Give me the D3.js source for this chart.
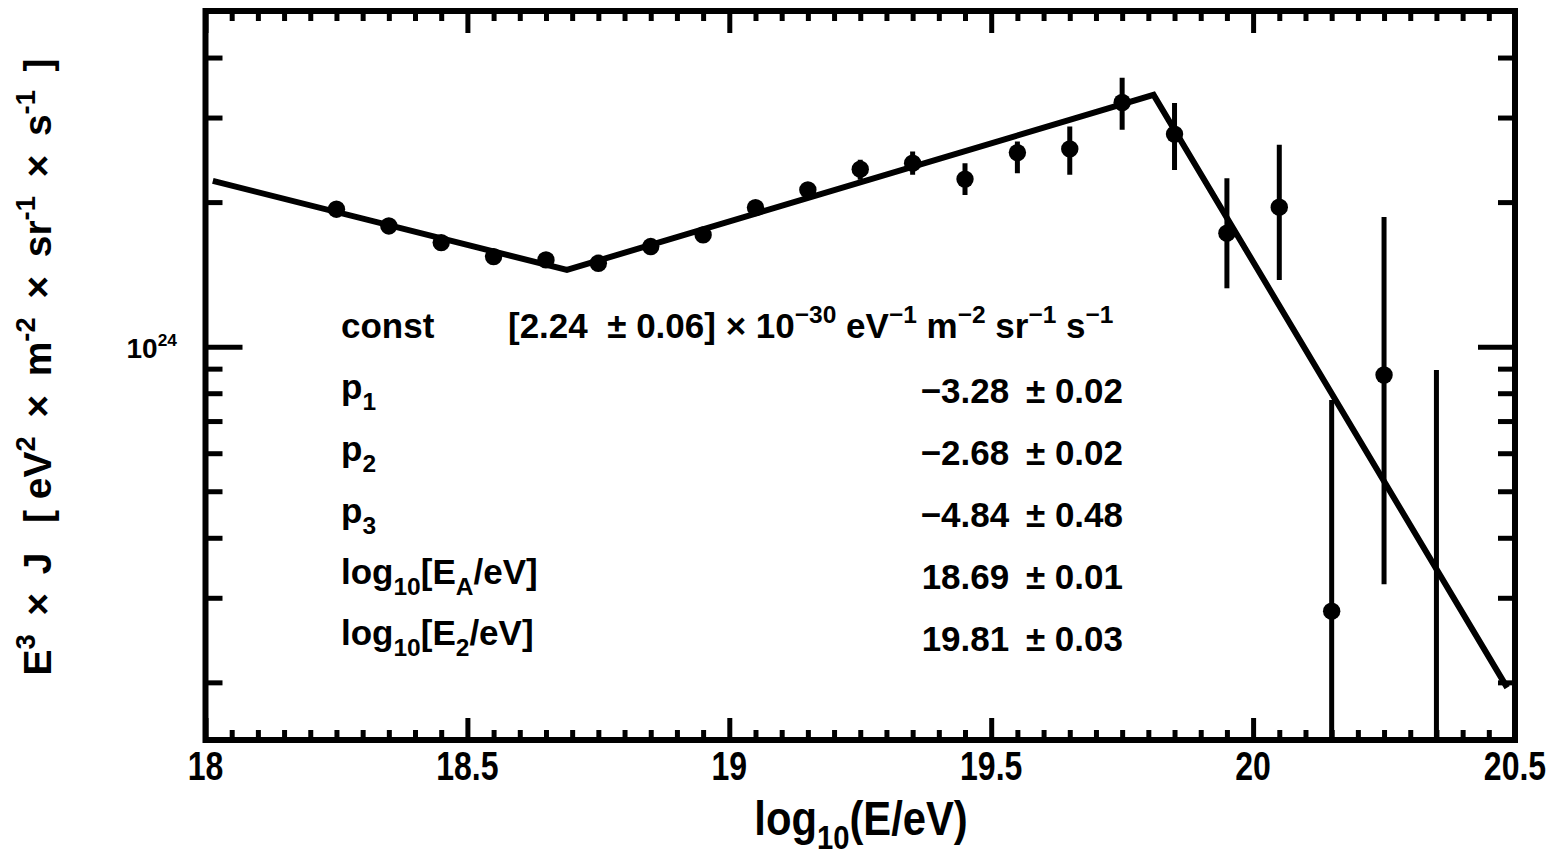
<!DOCTYPE html>
<html>
<head>
<meta charset="utf-8">
<script src="https://cdn.jsdelivr.net/npm/d3@7"></script>
<style>
  html, body { margin: 0; padding: 0; background: #fff; }
  svg { display: block; }
  text { font-family: "Liberation Sans", Arial, Helvetica, sans-serif; font-weight: bold; fill: #000; white-space: pre; }
</style>
</head>
<body>
<svg id="chart" width="1547" height="859"></svg>
<script>
// ---------------- data ----------------
const logE = [18.25, 18.35, 18.45, 18.55, 18.65, 18.75, 18.85, 18.95, 19.05, 19.15,
              19.25, 19.35, 19.45, 19.55, 19.65, 19.75, 19.85, 19.95, 20.05, 20.15, 20.25, 20.35];
const flux = [1.933e24, 1.784e24, 1.647e24, 1.540e24, 1.516e24, 1.492e24, 1.616e24, 1.709e24, 1.948e24, 2.121e24,
              2.342e24, 2.411e24, 2.233e24, 2.536e24, 2.581e24, 3.224e24, 2.771e24, 1.723e24, 1.952e24, 2.814e23, 8.73e23, 1.2e23];
const fluxHi = [1.95e24, 1.80e24, 1.66e24, 1.55e24, 1.53e24, 1.50e24, 1.63e24, 1.73e24, 1.98e24, 2.16e24,
                2.449e24, 2.548e24, 2.411e24, 2.674e24, 2.873e24, 3.629e24, 3.215e24, 2.243e24, 2.632e24, 7.74e23, 1.863e24, 8.94e23];
const fluxLo = [1.92e24, 1.77e24, 1.63e24, 1.53e24, 1.50e24, 1.48e24, 1.60e24, 1.69e24, 1.92e24, 2.09e24,
                2.225e24, 2.280e24, 2.070e24, 2.297e24, 2.280e24, 2.828e24, 2.334e24, 1.323e24, 1.377e24, 1.0e22, 3.203e23, 1.0e22];

const fitLogE = [18.014, 18.69, 19.81, 20.485];
const fitFlux = [2.214e24, 1.445e24, 3.344e24, 1.95e23];

const xMajorTicks = [18, 18.5, 19, 19.5, 20, 20.5];
const xTickLabels = ["18", "18.5", "19", "19.5", "20", "20.5"];
const yMajorTicks = [1e24];
const yMinorTicks = [2e23, 3e23, 4e23, 5e23, 6e23, 7e23, 8e23, 9e23, 2e24, 3e24, 4e24];

const paramNames = [
  [["const", 0]],
  [["p", 0], ["1", -1]],
  [["p", 0], ["2", -1]],
  [["p", 0], ["3", -1]],
  [["log", 0], ["10", -1], ["[E", 0], ["A", -1], ["/eV]", 0]],
  [["log", 0], ["10", -1], ["[E", 0], ["2", -1], ["/eV]", 0]]
];
const paramValues = [
  [["[2.24  ± 0.06] × 10", 0], ["−30", 1], [" eV", 0], ["−1", 1], [" m", 0], ["−2", 1], [" sr", 0], ["−1", 1], [" s", 0], ["−1", 1]],
  [["−3.28 \u2009± 0.02", 0]],
  [["−2.68 \u2009± 0.02", 0]],
  [["−4.84 \u2009± 0.48", 0]],
  [["18.69 \u2009± 0.01", 0]],
  [["19.81 \u2009± 0.03", 0]]
];

// ---------------- layout ----------------
const L = 205.5, R = 1515, T = 11, B = 740;
const svg = d3.select("#chart");

const x = d3.scaleLinear().domain([18, 20.5]).range([L, R]);
const y = d3.scaleLog().domain([1.517e23, 5e24]).range([B, T]);

svg.append("defs").append("clipPath").attr("id", "clip")
  .append("rect").attr("x", L + 3).attr("y", T + 3).attr("width", R - L - 6).attr("height", B - T - 6);

// rich text helper: parts [[str, shift]] shift 0 normal, -1 subscript, 1 superscript
function richText(g, px, py, parts, size, anchor, sx, ratio) {
  ratio = ratio || 0.7;
  const t = g.append("text")
    .attr("transform", `translate(${px},${py}) scale(${sx},1)`)
    .attr("text-anchor", anchor)
    .style("font-size", size + "px");
  let prev = 0;
  parts.forEach(([s, shift]) => {
    const ts = t.append("tspan").text(s);
    const target = shift === -1 ? size * 0.3 : shift === 1 ? -size * 0.42 : 0;
    if (shift !== 0) ts.style("font-size", (size * ratio) + "px");
    ts.attr("dy", target - prev);
    prev = target;
  });
  return t;
}

// ---------------- axes (ticks on all 4 sides) ----------------
const axesG = svg.append("g");
const xMinor = d3.range(0, 51).map(i => 18 + i * 0.05).filter(v => !xMajorTicks.some(m => Math.abs(m - v) < 1e-6));

const bottomAxis = d3.axisBottom(x).tickValues(xMajorTicks).tickSize(-22).tickFormat("");
const bottomMinor = d3.axisBottom(x).tickValues(xMinor).tickSize(-10).tickFormat("");
const topAxis = d3.axisTop(x).tickValues(xMajorTicks).tickSize(-22).tickFormat("");
const topMinor = d3.axisTop(x).tickValues(xMinor).tickSize(-10).tickFormat("");
const leftAxis = d3.axisLeft(y).tickValues(yMajorTicks).tickSize(-37).tickFormat("");
const leftMinor = d3.axisLeft(y).tickValues(yMinorTicks).tickSize(-17).tickFormat("");
const rightAxis = d3.axisRight(y).tickValues(yMajorTicks).tickSize(-37).tickFormat("");
const rightMinor = d3.axisRight(y).tickValues(yMinorTicks).tickSize(-17).tickFormat("");

[[bottomAxis, `translate(0,${B})`], [bottomMinor, `translate(0,${B})`],
 [topAxis, `translate(0,${T})`], [topMinor, `translate(0,${T})`],
 [leftAxis, `translate(${L},0)`], [leftMinor, `translate(${L},0)`],
 [rightAxis, `translate(${R},0)`], [rightMinor, `translate(${R},0)`]].forEach(([ax, tr]) => {
  const g = axesG.append("g").attr("transform", tr).call(ax);
  g.select(".domain").remove();
  g.selectAll(".tick line").attr("stroke", "#000").attr("stroke-width", 5);
});

// frame
svg.append("rect").attr("x", L).attr("y", T).attr("width", R - L).attr("height", B - T)
  .attr("fill", "none").attr("stroke", "#000").attr("stroke-width", 6);

// x tick labels
const xl = svg.append("g");
xMajorTicks.forEach((v, i) => {
  richText(xl, x(v), 780, [[xTickLabels[i], 0]], 40, "middle", 0.8);
});
// y tick label 10^24
richText(svg, 177, 358, [["10", 0], ["24", 1]], 28, "end", 1.0, 0.62);

// axis titles
richText(svg, 861, 835, [["log", 0], ["10", -1], ["(E/eV)", 0]], 48, "middle", 0.87);
const yt = svg.append("g").attr("transform", `translate(51,367) rotate(-90)`);
richText(yt, 0, 0, [["E", 0], ["3", 1], [" \u2009×\u2009 J  \u2009[ eV", 0], ["2", 1], [" \u2009×\u2009 m", 0], ["-2", 1], [" \u2009×\u2009 sr", 0], ["-1", 1], [" \u2009×\u2009 s", 0], ["-1", 1], [" \u2009]", 0]], 39, "middle", 1.0);

// ---------------- data ----------------
const dataG = svg.append("g").attr("clip-path", "url(#clip)");

const line = d3.line().x(d => x(d[0])).y(d => y(d[1]));
dataG.append("path")
  .datum(fitLogE.map((e, i) => [e, fitFlux[i]]))
  .attr("d", line)
  .attr("fill", "none").attr("stroke", "#000").attr("stroke-width", 6).attr("stroke-linejoin", "miter");

dataG.selectAll("line.err").data(logE).join("line")
  .attr("class", "err")
  .attr("x1", d => x(d)).attr("x2", d => x(d))
  .attr("y1", (d, i) => y(fluxHi[i])).attr("y2", (d, i) => y(fluxLo[i]))
  .attr("stroke", "#000").attr("stroke-width", 5);

dataG.selectAll("circle.pt").data(logE).join("circle")
  .attr("class", "pt")
  .attr("cx", d => x(d)).attr("cy", (d, i) => y(flux[i]))
  .attr("r", 8.7).attr("fill", "#000");

// ---------------- parameter table ----------------
const tg = svg.append("g");
const nameBase = [338, 399, 461, 523, 584, 645];
const valBase = [338, 403, 465, 527, 589, 651];
paramNames.forEach((p, i) => richText(tg, 341, nameBase[i], p, 35, "start", 1.0));
paramValues.forEach((p, i) => {
  if (i === 0) richText(tg, 508, valBase[i], p, 35, "start", 1.0);
  else richText(tg, 1123, valBase[i], p, 35, "end", 1.0);
});
</script>
</body>
</html>
